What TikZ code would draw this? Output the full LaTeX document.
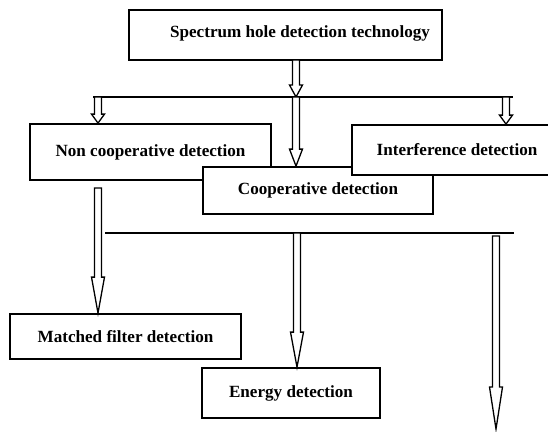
\documentclass[tikz,border=0pt]{standalone}
\usepackage{fontspec}
\setmainfont{Liberation Serif}
\usetikzlibrary{calc}
\tikzset{
  box/.style={draw, line width=1.8pt, fill=white, inner sep=0pt},
  lbl/.style={font=\fontsize{17.1}{20}\selectfont\bfseries, inner sep=0pt},
  hollow/.style={draw, line width=1.3pt, fill=white, line join=miter},
  bar/.style={line width=1.5pt}
}
\newcommand{\harrow}[3]{%
  \draw[hollow] ($(#1)+(-3.5,0)$) -- ($(#2)+(-3.5,-#3)$) -- ($(#2)+(-6.5,-#3)$) -- (#2)
    -- ($(#2)+(6.5,-#3)$) -- ($(#2)+(3.5,-#3)$) -- ($(#1)+(3.5,0)$) -- cycle;}
\begin{document}
\begin{tikzpicture}[x=1pt,y=-1pt]
\useasboundingbox (0,0) rectangle (548,431);
% boxes
\node[box, minimum width=313pt, minimum height=50pt] (topbox) at (285.5,35) {};
\node[lbl] (toptext) at (300,33) {Spectrum hole detection technology};
\node[box, lbl, minimum width=241pt, minimum height=56pt] (noncoop) at (150.5,152) {Non cooperative detection};
\node[box, lbl, minimum width=230pt, minimum height=47pt] (coop) at (318,190.5) {Cooperative detection};
\node[box, lbl, minimum width=210pt, minimum height=50pt] (interf) at (457,150) {Interference detection};
\node[box, lbl, minimum width=231pt, minimum height=45pt] (matched) at (125.5,336.5) {Matched filter detection};
\node[box, lbl, minimum width=178pt, minimum height=50pt] (energy) at (291,393) {Energy detection};
% bars
\coordinate (b1l) at (93,97);
\coordinate (b1r) at (513,97);
\coordinate (b2l) at (105,233);
\coordinate (b2r) at (514,233);
\draw[bar] (b1l) -- (b1r);
\draw[bar] (b2l) -- (b2r);
% arrow coordinates
\coordinate (a0s) at (296,60);   \coordinate (a0e) at (296,97);
\coordinate (a1s) at (98,97);    \coordinate (a1e) at (a1s |- noncoop.north);
\coordinate (a2s) at (506,97);   \coordinate (a2e) at (a2s |- interf.north);
\coordinate (a3s) at (296,97);   \coordinate (a3e) at (a3s |- coop.north);
\coordinate (a4s) at (98,188);   \coordinate (a4e) at (a4s |- matched.north);
\coordinate (a5s) at (297,233);  \coordinate (a5e) at (a5s |- energy.north);
\coordinate (a6s) at (496,236);  \coordinate (a6e) at (496,429);
\harrow{a0s}{a0e}{12}
\harrow{a1s}{a1e}{9}
\harrow{a2s}{a2e}{9}
\harrow{a3s}{a3e}{17}
\harrow{a4s}{a4e}{36}
\harrow{a5s}{a5e}{35}
\harrow{a6s}{a6e}{42}
\end{tikzpicture}
\end{document}
